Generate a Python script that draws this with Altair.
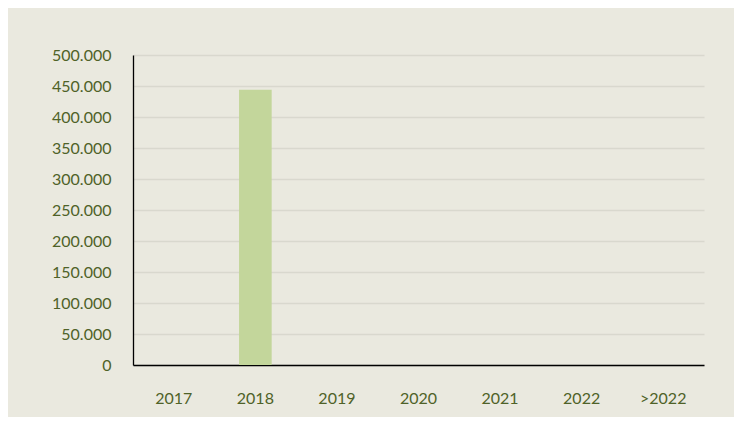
import altair as alt
import pandas as pd

years = ["2017", "2018", "2019", "2020", "2021", "2022", ">2022"]
values = [0, 444000, 0, 0, 0, 0, 0]
y_ticks = [0, 50000, 100000, 150000, 200000, 250000, 300000, 350000, 400000, 450000, 500000]

df = pd.DataFrame({"year": years, "value": values})

label_color = "#4F6228"
font = "Lato"

chart = alt.Chart(df).mark_bar(color="#C3D69B").encode(
    x=alt.X("year:N", sort=years, title=None,
            scale=alt.Scale(paddingInner=0.6, paddingOuter=0.3),
            axis=alt.Axis(labelAngle=0, labelPadding=25, ticks=False,
                          domainColor="#000000", domainWidth=1.3,
                          labelColor=label_color, labelFont=font, labelFontSize=16,
                          grid=False)),
    y=alt.Y("value:Q", title=None,
            scale=alt.Scale(domain=[0, 500000], nice=False),
            axis=alt.Axis(values=y_ticks, ticks=False, labelPadding=22,
                          labelExpr="replace(format(datum.value, ','), ',', '.')",
                          domainColor="#000000", domainWidth=1.3,
                          labelColor=label_color, labelFont=font, labelFontSize=16,
                          gridColor="#D9D8CE", gridWidth=1.5)),
).properties(
    width=571,
    height=310,
    background="#EAE9DF",
    padding={"left": 125, "top": 47, "right": 30, "bottom": 52},
    autosize=alt.AutoSizeParams(type="none"),
).configure_view(stroke=None)

chart.save("out.html", embed_options={"renderer": "svg", "actions": False})
